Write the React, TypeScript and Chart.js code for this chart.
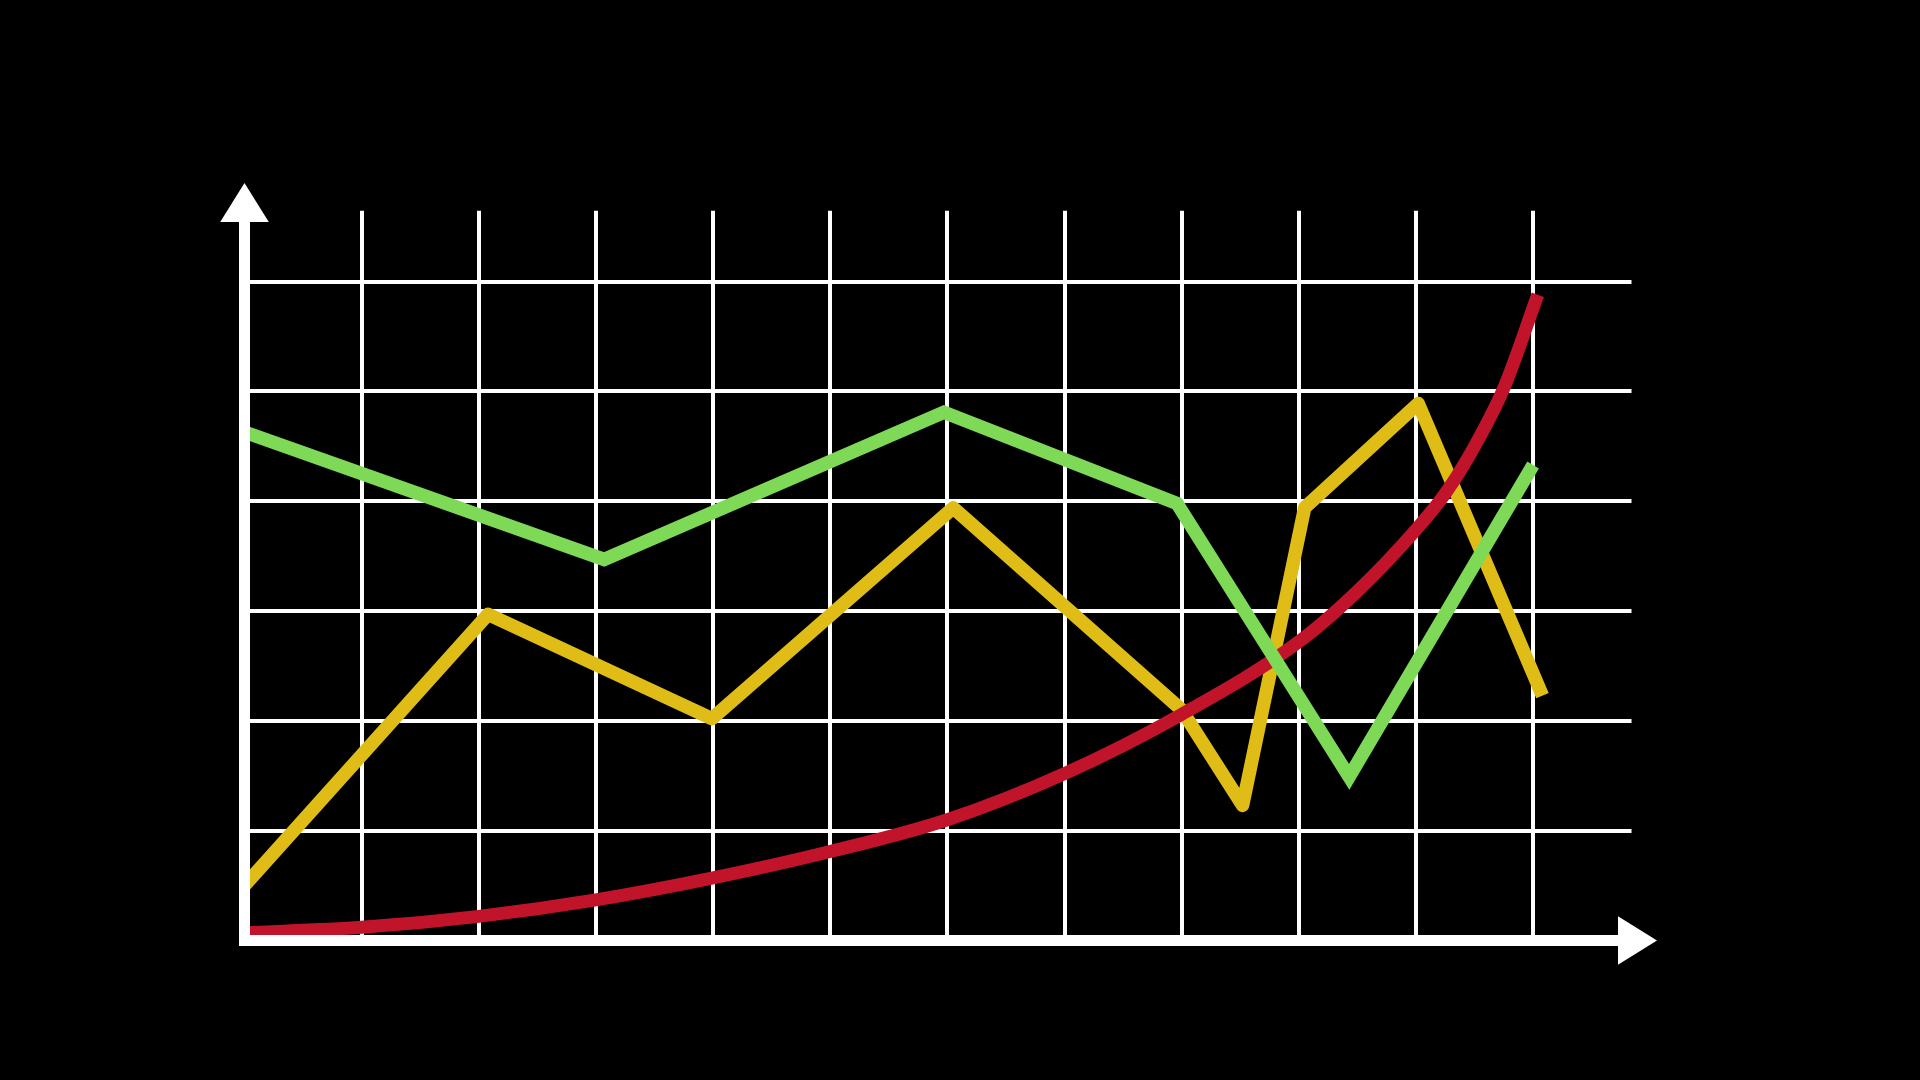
import { useEffect, useRef } from "react";
import { Chart, registerables } from "chart.js";

Chart.register(...registerables);

// Series values (x in grid columns, y in grid rows)
const greenX = [0, 3.07, 5.97, 7.96, 9.43, 11.0];
const greenY = [4.63, 3.47, 4.81, 3.98, 1.49, 4.33];

const yellowX = [0, 2.08, 3.99, 6.05, 8.0, 8.52, 9.05, 10.02, 11.08];
const yellowY = [0.5, 2.97, 2.02, 3.94, 2.1, 1.23, 3.94, 4.89, 2.23];

const redX = [0, 1, 2, 3, 4, 5, 6, 7, 8, 9, 9.5, 10, 10.25, 10.5, 10.75, 11.04];
const redY = [0.07, 0.12, 0.22, 0.37, 0.57, 0.81, 1.1, 1.52, 2.06, 2.72, 3.18, 3.74, 4.07, 4.5, 5.03, 5.88];

const X_MAX = 11.84;
const Y_MAX = 6.646;

const GREEN = "rgb(126, 217, 87)";
const YELLOW = "rgb(224, 189, 22)";
const RED = "rgb(193, 20, 42)";
const WHITE = "#ffffff";

const toPoints = (xs: number[], ys: number[]) => xs.map((x, i) => ({ x, y: ys[i] }));

const arrowAxes = {
  id: "arrowAxes",
  afterDatasetsDraw(chart: any) {
    const { ctx, chartArea, scales } = chart;
    const x0 = scales.x.getPixelForValue(0);
    const y0 = scales.y.getPixelForValue(0);
    const w = 11;
    const head = 24.3;
    ctx.save();
    ctx.fillStyle = WHITE;
    // y axis
    const yBase = chartArea.top + 11.3;
    const yTip = chartArea.top - 27.7;
    ctx.fillRect(x0 - w / 2, yBase - 1, w, y0 + w / 2 - yBase + 1);
    ctx.beginPath();
    ctx.moveTo(x0, yTip);
    ctx.lineTo(x0 - head, yBase);
    ctx.lineTo(x0 + head, yBase);
    ctx.closePath();
    ctx.fill();
    // x axis
    const xBase = chartArea.right - 13.5;
    const xTip = chartArea.right + 25.5;
    ctx.fillRect(x0 - w / 2, y0 - w / 2, xBase - (x0 - w / 2) + 1, w);
    ctx.beginPath();
    ctx.moveTo(xTip, y0);
    ctx.lineTo(xBase, y0 - head);
    ctx.lineTo(xBase, y0 + head);
    ctx.closePath();
    ctx.fill();
    ctx.restore();
  },
};

export default function App() {
  const canvasRef = useRef<HTMLCanvasElement | null>(null);

  useEffect(() => {
    const canvas = canvasRef.current;
    if (!canvas) return;
    const intTicks = (scale: any) => {
      scale.ticks = scale.ticks.filter((t: any) => Math.abs(t.value - Math.round(t.value)) < 1e-6);
    };
    const chart = new Chart(canvas, {
      type: "line",
      data: {
        datasets: [
          {
            label: "green",
            data: toPoints(greenX, greenY),
            borderColor: GREEN,
            borderWidth: 13.5,
            borderJoinStyle: "miter",
            borderCapStyle: "butt",
            pointRadius: 0,
            tension: 0,
            fill: false,
          },
          {
            label: "red",
            data: toPoints(redX, redY),
            borderColor: RED,
            borderWidth: 13,
            borderCapStyle: "butt",
            borderJoinStyle: "round",
            pointRadius: 0,
            cubicInterpolationMode: "monotone",
            fill: false,
          },
          {
            label: "yellow",
            data: toPoints(yellowX, yellowY),
            borderColor: YELLOW,
            borderWidth: 13.5,
            borderJoinStyle: "round",
            borderCapStyle: "butt",
            pointRadius: 0,
            tension: 0,
            fill: false,
          },
        ],
      },
      options: {
        animation: false,
        responsive: false,
        maintainAspectRatio: false,
        layout: {
          padding: { left: 244.5, top: 210.7, right: 288.5, bottom: 139.5 },
        },
        plugins: {
          legend: { display: false },
          tooltip: { enabled: false },
          title: { display: false },
        },
        scales: {
          x: {
            type: "linear",
            min: 0,
            max: X_MAX,
            ticks: { display: false, stepSize: 1 },
            grid: { color: WHITE, lineWidth: 4, drawTicks: false },
            border: { display: false },
            afterBuildTicks: intTicks,
            afterFit: (s: any) => {
              s.height = 0;
            },
          },
          y: {
            type: "linear",
            min: 0,
            max: Y_MAX,
            ticks: { display: false, stepSize: 1 },
            grid: { color: WHITE, lineWidth: 4, drawTicks: false },
            border: { display: false },
            afterBuildTicks: intTicks,
            afterFit: (s: any) => {
              s.width = 0;
            },
          },
        },
      } as any,
      plugins: [arrowAxes],
    });
    return () => chart.destroy();
  }, []);

  return (
    <div
      style={{
        position: "fixed",
        left: 0,
        top: 0,
        width: 1920,
        height: 1080,
        background: "#000",
      }}
    >
      <canvas ref={canvasRef} width={1920} height={1080} style={{ display: "block" }} />
    </div>
  );
}
